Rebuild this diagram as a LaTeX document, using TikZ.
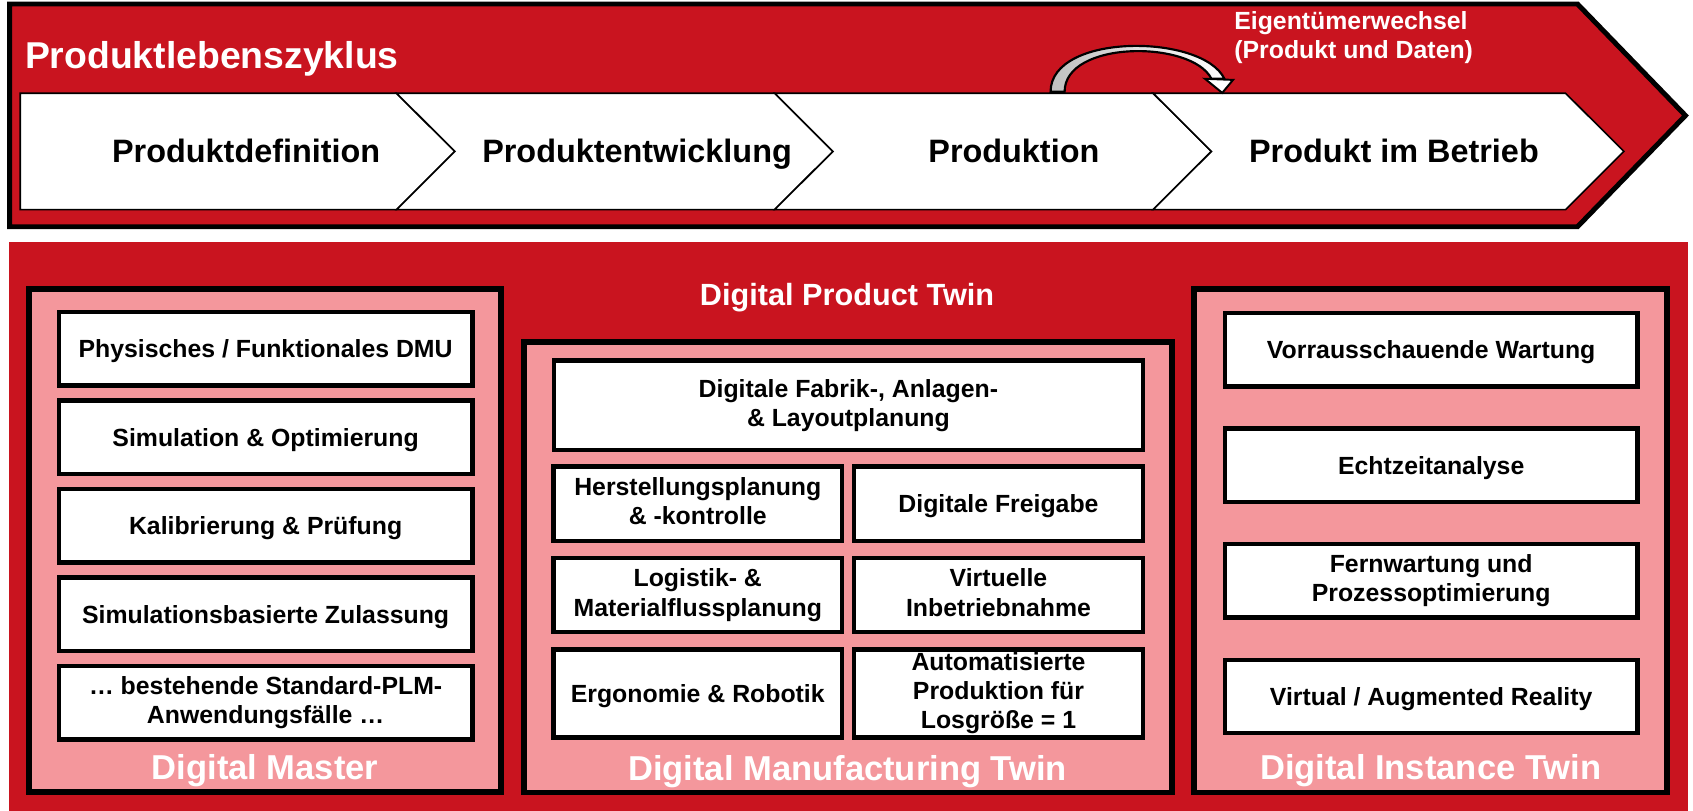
\documentclass[tikz,border=0pt]{standalone}
\usepackage{fontspec}
\setmainfont{Liberation Sans}
\usepackage{tikz}
\usetikzlibrary{arrows.meta}
\definecolor{plmred}{RGB}{201,20,31}
\definecolor{plmpink}{RGB}{244,151,156}
\newcommand{\capstrut}{\rule{0pt}{0.93em}}
\newcommand{\descstrut}{\rule[-0.22em]{0pt}{0.22em}}
\newcommand{\casefont}{\fontsize{23}{27}\selectfont\bfseries}

\begin{document}
\begin{tikzpicture}[x=1pt,y=-1pt,
	usecase/.style={draw, line width=4pt, fill=white, inner sep=0pt, align=center, font=\casefont,
		execute at begin node=\capstrut, execute at end node=\descstrut},
	twinframe/.style={draw, line width=5.5pt, fill=plmpink, inner sep=0pt},
	twinlabel/.style={anchor=base, inner sep=0pt, text=white, font=\fontsize{32}{36}\selectfont\bfseries},
	phase/.style={anchor=base, inner sep=0pt, font=\fontsize{30}{34}\selectfont\bfseries},
	chevron/.style={draw, line width=1.5pt, fill=white, line join=miter},
	ownerband/.style={draw, line width=2pt, left color=gray!50, right color=white},
	ownerhead/.style={draw, line width=1.8pt, fill=white, line join=miter}]
	\useasboundingbox (0,0) rectangle (1568,751);
	\draw[line width=4.6pt, fill=plmred, line join=miter] (9,3.7) -- (1461,3.7) -- (1561,107) -- (1461,210) -- (9,210) -- cycle;
	\node[anchor=base west, inner sep=0pt, text=white, font=\fontsize{34.6}{40}\selectfont\bfseries] (title) at (23,63) {Produktlebenszyklus};
	\draw[chevron] (18.8,86.4) -- (367.3,86.4) -- (421.3,140.25) -- (367.3,194.1) -- (18.8,194.1) -- cycle;
	\draw[chevron] (367.3,86.4) -- (717.5,86.4) -- (771.5,140.25) -- (717.5,194.1) -- (367.3,194.1) -- (421.3,140.25) -- cycle;
	\draw[chevron] (717.5,86.4) -- (1068,86.4) -- (1122,140.25) -- (1068,194.1) -- (717.5,194.1) -- (771.5,140.25) -- cycle;
	\draw[chevron] (1068,86.4) -- (1450,86.4) -- (1504,140.25) -- (1450,194.1) -- (1068,194.1) -- (1122,140.25) -- cycle;
	\node[phase] (definition) at (228,150.7) {Produktdefinition};
	\node[phase] (entwicklung) at (590,150.7) {Produktentwicklung};
	\node[phase] (produktion) at (939,150.7) {Produktion};
	\node[phase] (betrieb) at (1291,150.7) {Produkt im Betrieb};
	\node[anchor=west, inner sep=0pt, align=left, text=white, font=\casefont,
		execute at begin node=\capstrut, execute at end node=\descstrut] (wechsel) at (1143,35.3) {Eigentümerwechsel\\(Produkt und Daten)};
	\coordinate (handover) at (979.5,85);
	\coordinate (takeover) at (1132,86);
	\shadedraw[ownerband] ([xshift=-6.5pt]handover) .. controls +(0,-55) and +(-20,-42) .. ([shift={(2,-13)}]takeover)
		-- ([shift={(-10,-13)}]takeover) .. controls +(-18,-36) and +(0,-48) .. ([xshift=6.5pt]handover) -- cycle;
	\draw[ownerhead] ([shift={(-16,-13)}]takeover) -- ([shift={(10,-12)}]takeover) -- (takeover) -- cycle;

	\fill[plmred] (8.3,224) rectangle (1563,751);
	\node[twinframe, minimum width=437pt, minimum height=466pt] (dm) at (245.5,500.5) {};
	\node[twinframe, minimum width=600.5pt, minimum height=417.5pt] (dmt) at (785.25,525.25) {};
	\node[twinframe, minimum width=438pt, minimum height=466.5pt] (dit) at (1324.5,500.75) {};
	\node[twinlabel] (dptlabel) at (784.5,282.6) {\fontsize{28.4}{32}\selectfont Digital Product Twin};
	\node[twinlabel] (dmlabel) at (245.5,722) {Digital Master};
	\node[twinlabel] (dmtlabel) at (785,723) {Digital Manufacturing Twin};
	\node[twinlabel] (ditlabel) at (1325,722) {Digital Instance Twin};

	\node[usecase, minimum width=383pt, minimum height=68pt] (dmu) at (246,323) {Physisches / Funktionales DMU};
	\node[usecase, minimum width=383pt, minimum height=68pt] (simopt) at (246,405) {Simulation \& Optimierung};
	\node[usecase, minimum width=383pt, minimum height=68pt] (kalib) at (246,487) {Kalibrierung \& Prüfung};
	\node[usecase, minimum width=383pt, minimum height=68pt] (zulass) at (246,569) {Simulationsbasierte Zulassung};
	\node[usecase, minimum width=383pt, minimum height=68pt] (plmcases) at (246,651) {… bestehende Standard-PLM-\\Anwendungsfälle …};

	\node[usecase, minimum width=545.5pt, minimum height=83pt] (fabrik) at (785.75,375.5) {Digitale Fabrik-, Anlagen-\\\& Layoutplanung};
	\node[usecase, minimum width=267.5pt, minimum height=69pt] (herst) at (646.25,466.5) {Herstellungsplanung\\\& -kontrolle};
	\node[usecase, minimum width=267.5pt, minimum height=69pt] (freigabe) at (924.75,466.5) {Digitale Freigabe};
	\node[usecase, minimum width=267.5pt, minimum height=68.5pt] (logistik) at (646.25,551.25) {Logistik- \&\\Materialflussplanung};
	\node[usecase, minimum width=267.5pt, minimum height=68.5pt] (inbetrieb) at (924.75,551.25) {Virtuelle\\Inbetriebnahme};
	\node[usecase, minimum width=267.5pt, minimum height=81.5pt] (ergo) at (646.25,642.25) {Ergonomie \& Robotik};
	\node[usecase, minimum width=267.5pt, minimum height=81.5pt] (losgr) at (924.75,642.25) {Automatisierte\\Produktion für\\Losgröße = 1};

	\node[usecase, minimum width=382pt, minimum height=68pt] (wartung) at (1325.5,324) {Vorrausschauende Wartung};
	\node[usecase, minimum width=382pt, minimum height=68pt] (echtzeit) at (1325.5,431) {Echtzeitanalyse};
	\node[usecase, minimum width=382pt, minimum height=68pt] (fernwart) at (1325.5,538) {Fernwartung und\\Prozessoptimierung};
	\node[usecase, minimum width=382pt, minimum height=68pt] (vrar) at (1325.5,645) {Virtual / Augmented Reality};
\end{tikzpicture}
\end{document}
